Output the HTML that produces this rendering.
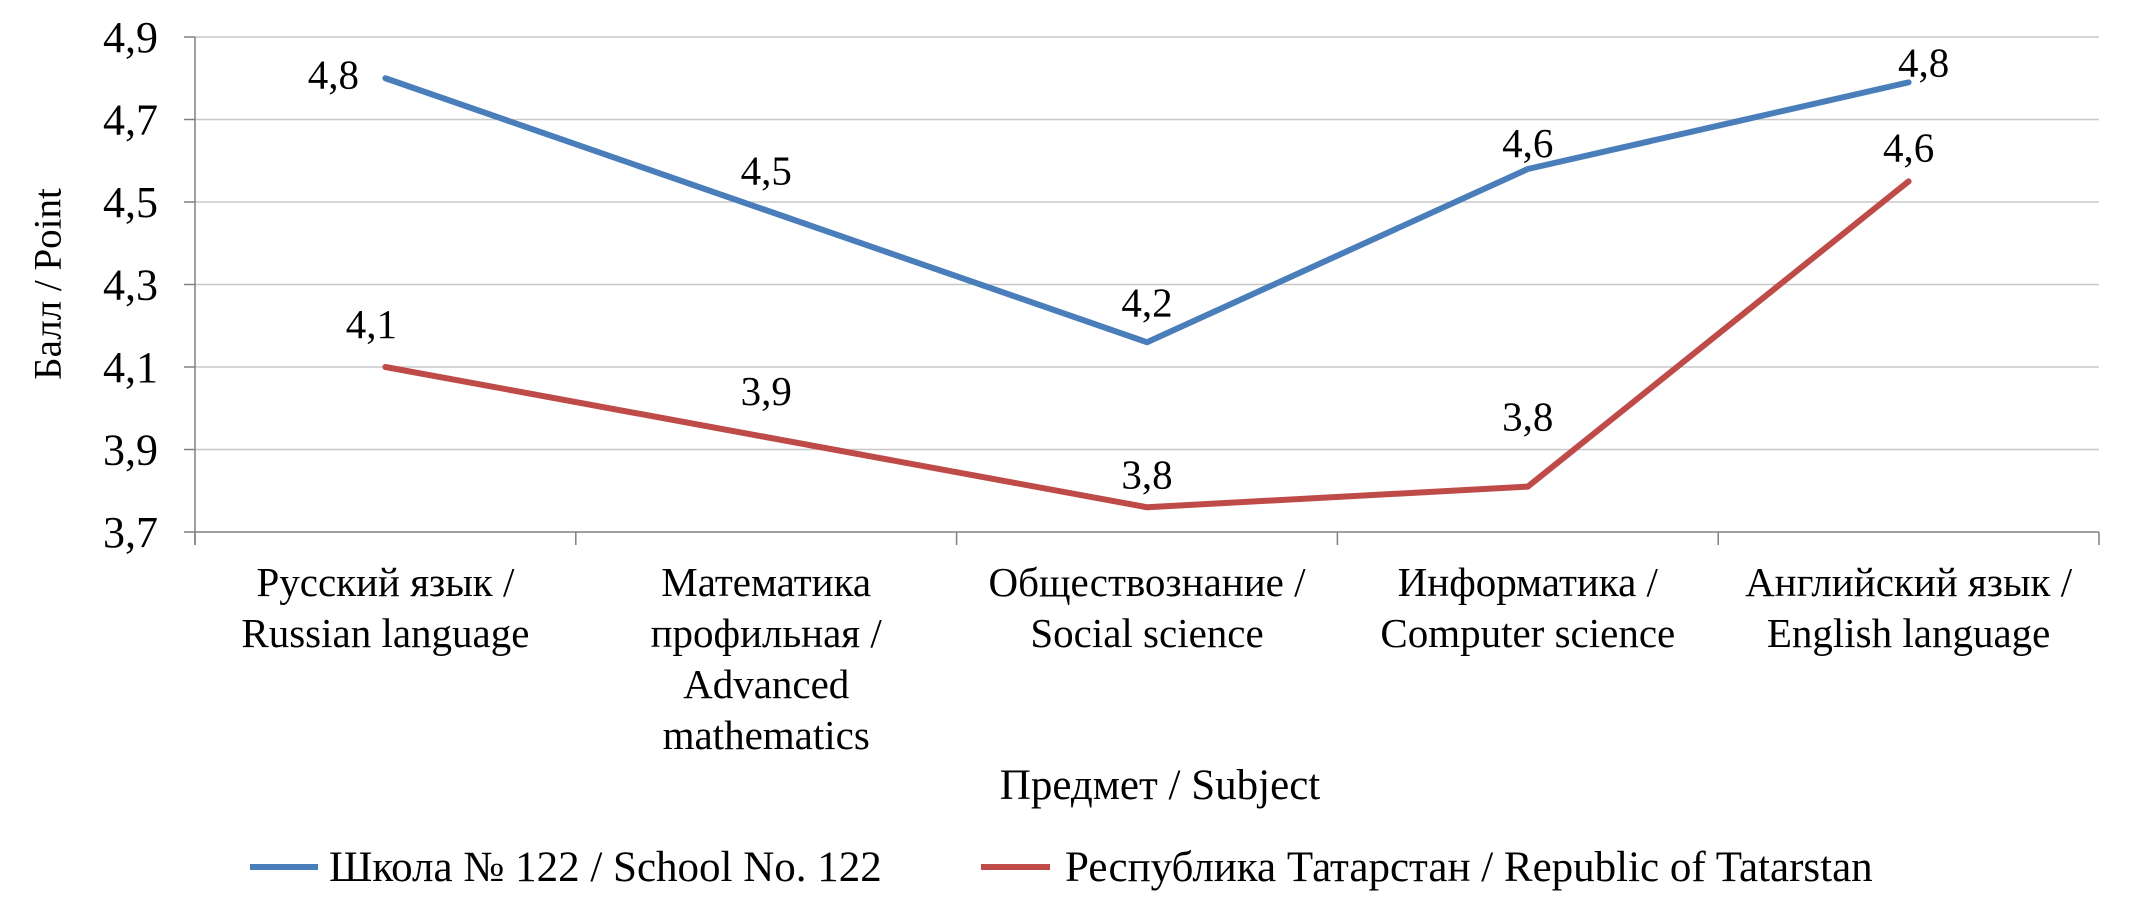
<!DOCTYPE html>
<html><head><meta charset="utf-8"><style>
body{margin:0;background:#fff;}
svg text{font-family:"Liberation Serif",serif;fill:#000;}
</style></head><body>
<svg id="chart" width="2137" height="898" viewBox="0 0 2137 898" xmlns="http://www.w3.org/2000/svg">
<g id="grid"></g>
<g id="axes"></g>
<g id="series"></g>
<g id="labels"></g>
<text x="48" y="284" font-size="39" text-anchor="middle" dominant-baseline="central" transform="rotate(-90 48 284)">Балл / Point</text>
<text x="1160" y="799" font-size="43" text-anchor="middle">Предмет / Subject</text>
<g>
<g><line x1="250" y1="867" x2="318" y2="867" stroke="#4a7ebb" stroke-width="6"/><text x="329" y="881" font-size="43">Школа № 122 / School No. 122</text></g>
<g><line x1="981" y1="867" x2="1050" y2="867" stroke="#be4b48" stroke-width="6"/><text x="1065" y="881" font-size="43">Республика Татарстан / Republic of Tatarstan</text></g>
</g>
</svg>
<script>
const categories=[["Русский язык /","Russian language"],["Математика","профильная /","Advanced","mathematics"],["Обществознание  /","Social science"],["Информатика /","Computer science"],["Английский язык /","English language"]];
const schoolValues=[4.80,4.48,4.16,4.58,4.79];
const tatarstanValues=[4.10,3.93,3.76,3.81,4.55];
const schoolLabels=["4,8","4,5","4,2","4,6","4,8"];
const tatarstanLabels=["4,1","3,9","3,8","3,8","4,6"];
const yTicks=[3.7,3.9,4.1,4.3,4.5,4.7,4.9];
const yTickLabels=["3,7","3,9","4,1","4,3","4,5","4,7","4,9"];

const NS="http://www.w3.org/2000/svg";
const L=195,R=2099,T=37,B=532,yMin=3.7,yMax=4.9;
const band=(R-L)/categories.length;
const xPos=i=>L+band*(i+0.5);
const yPos=v=>B-(v-yMin)/(yMax-yMin)*(B-T);
function mk(tag,attrs,parent){const e=document.createElementNS(NS,tag);for(const k in attrs)e.setAttribute(k,attrs[k]);parent.appendChild(e);return e;}
const grid=document.getElementById('grid'),axes=document.getElementById('axes'),series=document.getElementById('series'),labels=document.getElementById('labels');
yTicks.forEach((v,i)=>{
  const y=yPos(v);
  if(i>0){const g=mk('line',{x1:L,x2:R,y1:y,y2:y,stroke:'#c8c8c8','stroke-width':1.5},grid);
  
  }
  const tk=mk('line',{x1:184,x2:L,y1:y,y2:y,stroke:'#808080','stroke-width':1.5},axes);
  
  
  const t=mk('text',{x:158,y:y+15,'font-size':44,'text-anchor':'end'},axes);
  t.textContent=yTickLabels[i];
  
  
});
const ya=mk('line',{x1:L,x2:L,y1:T,y2:B+13,stroke:'#808080','stroke-width':1.5},axes);


const xa=mk('line',{x1:L,x2:R,y1:B,y2:B,stroke:'#808080','stroke-width':1.5},axes);


for(let i=0;i<=categories.length;i++){
  const x=L+band*i;
  const tk=mk('line',{x1:x,x2:x,y1:B,y2:B+13,stroke:'#808080','stroke-width':1.5},axes);
  
  
}
categories.forEach((lines,i)=>{
  const t=mk('text',{x:xPos(i),y:596,'font-size':41,'text-anchor':'middle'},axes);
  
  
  lines.forEach((ln,j)=>{const s=mk('tspan',{x:xPos(i),dy:j?51:0},t);s.textContent=ln;});
});
function drawSeries(vals,labs,color,name,dx,dy){
  const pts=vals.map((v,i)=>xPos(i)+','+yPos(v)).join(' ');
  const p=mk('polyline',{points:pts,fill:'none',stroke:color,'stroke-width':6,'stroke-linejoin':'round','stroke-linecap':'round'},series);
  
  
  vals.forEach((v,i)=>{
    const t=mk('text',{x:xPos(i)+dx[i],y:yPos(v)-dy[i],'font-size':41,'text-anchor':'middle'},labels);
    t.textContent=labs[i];
    
    
  });
}
drawSeries(schoolValues,schoolLabels,'#4a7ebb','school',[-52,0,0,0,15],[-10,26,26,12,6]);
drawSeries(tatarstanValues,tatarstanLabels,'#be4b48','tatarstan',[-14,0,0,0,0],[29,32,19,56,20]);
</script>
</body></html>
